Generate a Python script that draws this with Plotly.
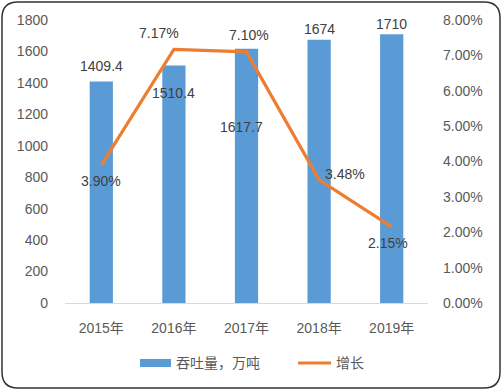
import plotly.graph_objects as go

categories = ["2015年", "2016年", "2017年", "2018年", "2019年"]
throughput = [1409.4, 1510.4, 1617.7, 1674, 1710]
growth = [0.0390, 0.0717, 0.0710, 0.0348, 0.0215]
bar_labels = ["1409.4", "1510.4", "1617.7", "1674", "1710"]
growth_labels = ["3.90%", "7.17%", "7.10%", "3.48%", "2.15%"]
series_names = ["吞吐量，万吨", "增长"]

# label offsets (pixels) relative to the data point
bar_off = [(0, 15), (0, -27), (-5, -78), (0, 11), (0, 10)]
line_off = [(0, -16), (-15, 16), (2, 17), (26, 6), (-4, -16)]

W, H = 503, 392
L, R, T, B = 65, 75, 20, 89
pw, ph = W - L - R, H - T - B

FONT = "Liberation Sans, Noto Sans CJK SC, sans-serif"
TICKC = "#595959"
LBLC = "#404040"
BLUE = "#5B9BD5"
ORANGE = "#ED7D31"

fig = go.Figure()
fig.add_trace(go.Bar(x=categories, y=throughput, name=series_names[0],
                     marker=dict(color=BLUE, line=dict(width=0)),
                     yaxis="y", showlegend=False))
fig.add_trace(go.Scatter(x=categories, y=growth, name=series_names[1], mode="lines",
                         line=dict(color=ORANGE, width=3.2),
                         yaxis="y2", showlegend=False))

ann = []
for c, v, t, (dx, dy) in zip(categories, throughput, bar_labels, bar_off):
    ann.append(dict(x=c, y=v, xref="x", yref="y", text=t, showarrow=False,
                    xshift=dx, yshift=dy, font=dict(size=14, color=LBLC, family=FONT)))
for c, v, t, (dx, dy) in zip(categories, growth, growth_labels, line_off):
    ann.append(dict(x=c, y=v, xref="x", yref="y2", text=t, showarrow=False,
                    xshift=dx, yshift=dy, font=dict(size=14, color=LBLC, family=FONT)))

def px(x):
    return (x - L) / pw

def py(y):
    return (T + ph - y) / ph

# custom legend (wide bar swatch like the original)
ly = 363
ann.append(dict(x=px(174), y=py(ly), xref="paper", yref="paper", text=series_names[0],
                showarrow=False, xanchor="left", yanchor="middle",
                font=dict(size=14, color=TICKC, family=FONT)))
ann.append(dict(x=px(334), y=py(ly), xref="paper", yref="paper", text=series_names[1],
                showarrow=False, xanchor="left", yanchor="middle",
                font=dict(size=14, color=TICKC, family=FONT)))

x0, x1, y0, y1, r = 2, 500, 2, 388, 16
path = (f"M {px(x0+r)} {py(y0)} L {px(x1-r)} {py(y0)} Q {px(x1)} {py(y0)} {px(x1)} {py(y0+r)} "
        f"L {px(x1)} {py(y1-r)} Q {px(x1)} {py(y1)} {px(x1-r)} {py(y1)} "
        f"L {px(x0+r)} {py(y1)} Q {px(x0)} {py(y1)} {px(x0)} {py(y1-r)} "
        f"L {px(x0)} {py(y0+r)} Q {px(x0)} {py(y0)} {px(x0+r)} {py(y0)} Z")

shapes = [
    dict(type="path", path=path, xref="paper", yref="paper",
         line=dict(color="#333333", width=1.5), layer="below"),
    dict(type="rect", xref="paper", yref="paper", x0=px(140), x1=px(171),
         y0=py(ly + 4), y1=py(ly - 4), fillcolor=BLUE, line=dict(width=0)),
    dict(type="line", xref="paper", yref="paper", x0=px(298), x1=px(331),
         y0=py(ly), y1=py(ly), line=dict(color=ORANGE, width=3.2)),
]

fig.update_layout(
    width=W, height=H,
    margin=dict(l=L, r=R, t=T, b=B),
    paper_bgcolor="white", plot_bgcolor="white",
    font=dict(family=FONT, color=TICKC, size=14),
    bargap=0.68,
    xaxis=dict(showgrid=False, showline=True, linecolor="#D9D9D9", linewidth=1,
               ticks="", ticklabelstandoff=12, tickfont=dict(size=14, color=TICKC)),
    yaxis=dict(range=[0, 1800], dtick=200, showgrid=False, zeroline=False,
               showline=False, ticks="", ticklabelstandoff=16,
               tickfont=dict(size=14, color=TICKC)),
    yaxis2=dict(range=[0, 0.08], dtick=0.01, tickformat=".2%", overlaying="y",
                side="right", showgrid=False, zeroline=False, showline=False,
                ticks="", ticklabelstandoff=14, tickfont=dict(size=14, color=TICKC)),
    annotations=ann,
    shapes=shapes,
)

fig.write_html("out.html", config={"displayModeBar": False},
               post_script="document.body.style.margin='0';document.body.style.overflow='hidden';")
